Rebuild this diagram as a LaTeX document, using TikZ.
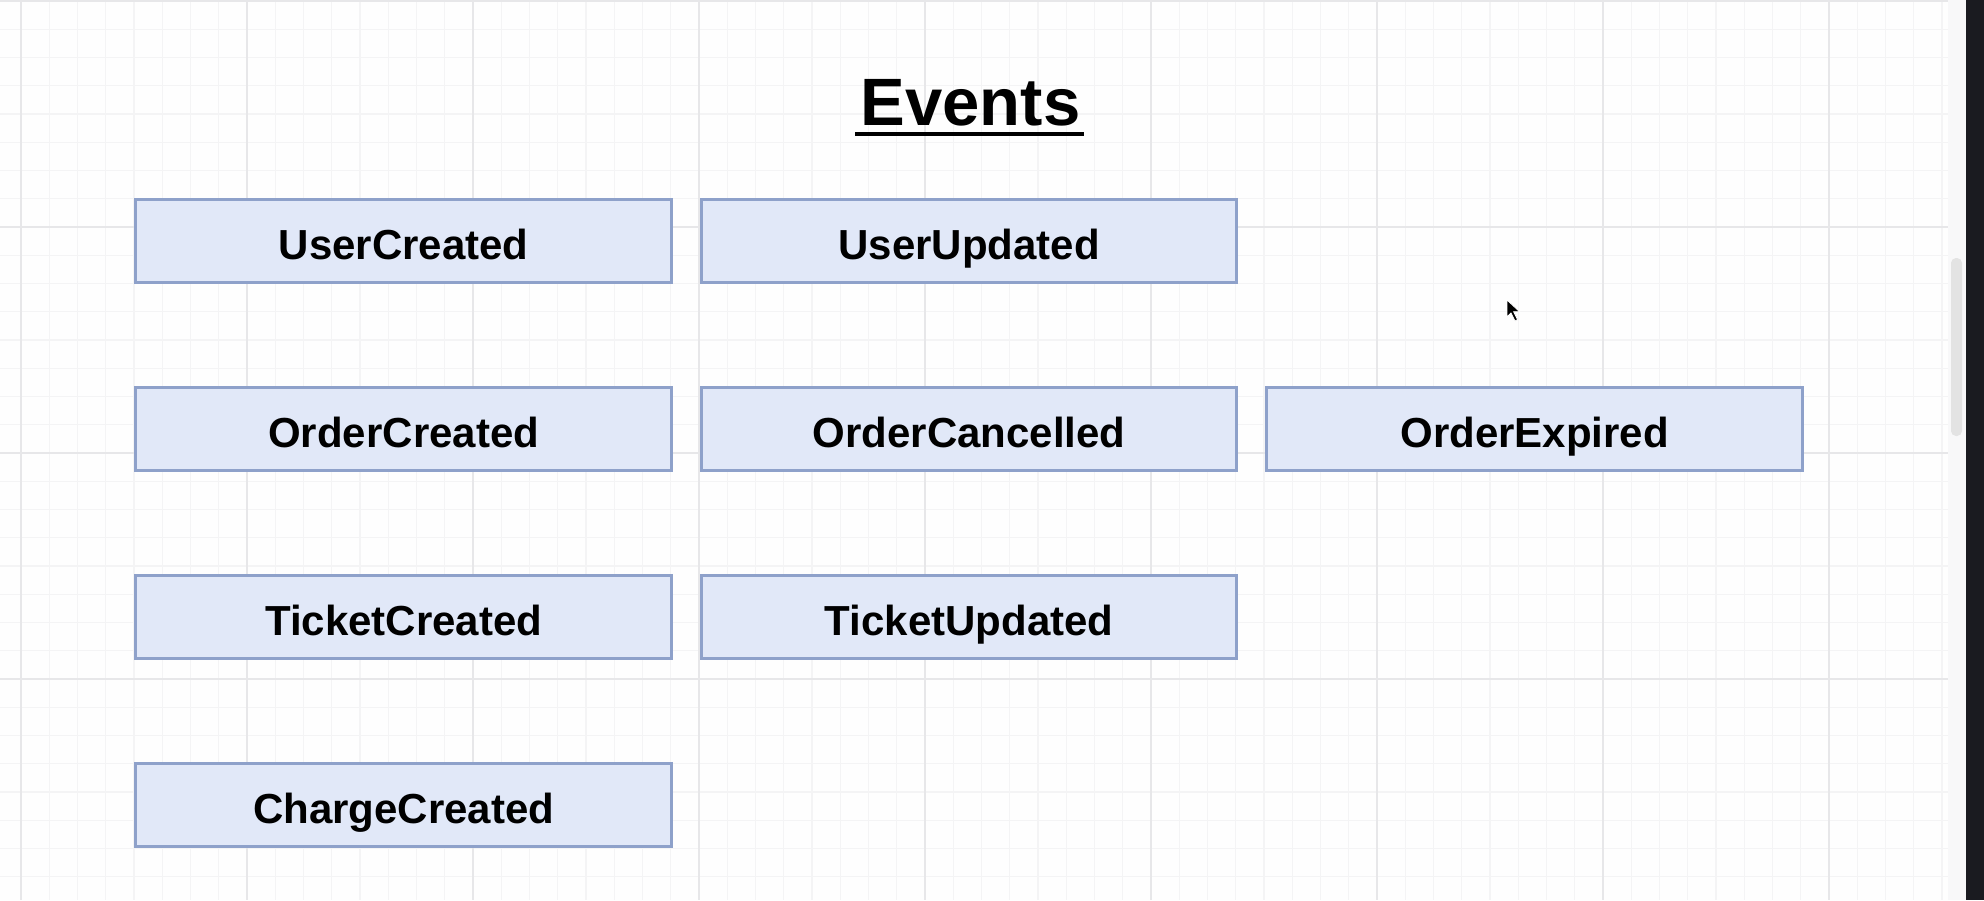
\documentclass[tikz,border=0pt]{standalone}
\usepackage{fontspec}
\setmainfont{Liberation Sans}
\usepackage{tikz}
\usetikzlibrary{positioning}
\definecolor{evfill}{RGB}{225,232,248}
\definecolor{evline}{RGB}{142,161,202}
\definecolor{gridmin}{RGB}{244,244,245}
\definecolor{gridmaj}{RGB}{231,231,233}
\definecolor{panel}{RGB}{248,248,249}
\definecolor{darkband}{RGB}{26,27,32}
\tikzset{
	ev_box/.style = {rectangle, draw=evline, fill=evfill, line width=3pt,
		minimum width=535.5pt, minimum height=83pt, inner sep=0pt,
		text height=36pt, text depth=0pt,
		font=\fontsize{42}{48}\selectfont\bfseries},% boite evenement
	ev_title/.style = {inner sep=0pt, anchor=base,
		font=\fontsize{67}{76}\selectfont\bfseries},% titre
	grid_min/.style = {draw=gridmin, line width=1.2pt},% grille fine
	grid_maj/.style = {draw=gridmaj, line width=1.6pt}% grille forte
}
\begin{document}
\begin{tikzpicture}[x=1pt,y=-1pt,node distance=102pt and 27pt]
\useasboundingbox (0,0) rectangle (1984,900);
\fill[white!99!gray] (0,0) rectangle (1948,900);
% grille
\foreach \gx in {-7.25,21,...,1948} \draw[grid_min] (\gx,0) -- (\gx,900);
\foreach \gy in {1,29.25,...,900} \draw[grid_min] (0,\gy) -- (1948,\gy);
\foreach \gx in {21,247,...,1948} \draw[grid_maj] (\gx,0) -- (\gx,900);
\foreach \gy in {1,227,...,900} \draw[grid_maj] (0,\gy) -- (1948,\gy);
\fill[panel] (1948,0) rectangle (1966,900);
\fill[gray!22, rounded corners=5pt] (1951,258) rectangle (1962,436);
\fill[darkband] (1966,0) rectangle (1984,900);
% titre
\node[ev_title] (ttl) at (970.5,125) {Events};
\draw[line width=4pt] ([xshift=-5pt,yshift=-9pt]ttl.base west) -- ([xshift=3pt,yshift=-9pt]ttl.base east);
% evenements
\node[ev_box] (ev_uc) at (403.7,241) {UserCreated};
\node[ev_box, right=of ev_uc] (ev_uu) {UserUpdated};
\node[ev_box, below=of ev_uc] (ev_oc) {OrderCreated};
\node[ev_box, right=of ev_oc] (ev_ocl) {OrderCancelled};
\node[ev_box, right=of ev_ocl] (ev_oe) {OrderExpired};
\node[ev_box, below=of ev_oc] (ev_tc) {TicketCreated};
\node[ev_box, right=of ev_tc] (ev_tu) {TicketUpdated};
\node[ev_box, below=of ev_tc] (ev_cc) {ChargeCreated};
% curseur
\filldraw[fill=black, draw=white, line width=0.8pt] (1507,300) -- ++(0,17) -- ++(4,-4)
	-- ++(4,8) -- ++(2.6,-1.3) -- ++(-4,-8) -- ++(6,0) -- cycle;
\end{tikzpicture}
\end{document}
